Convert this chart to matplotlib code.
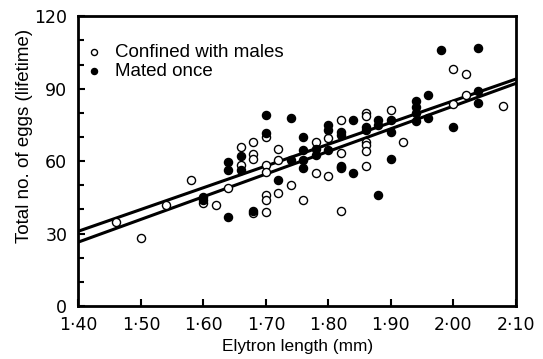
import matplotlib.pyplot as plt

plt.rcParams['font.family'] = ['Liberation Sans', 'DejaVu Sans']

# Confined with males (open circles)
conf_x = [1.46, 1.50, 1.54, 1.58, 1.60, 1.62, 1.64, 1.68, 1.70, 1.70, 1.70, 1.72, 1.74,
          1.66, 1.68, 1.68, 1.68, 1.70, 1.72, 1.72, 1.66, 1.70, 1.70,
          1.76, 1.78, 1.78, 1.80, 1.80, 1.82, 1.82, 1.82, 1.82,
          1.86, 1.86, 1.86, 1.86, 1.86, 1.86, 1.90, 1.92,
          2.00, 2.02, 2.00, 2.02, 2.08]
conf_y = [35, 28, 42, 52, 42.5, 42, 49, 38.5, 46, 44, 39, 47, 50,
          66, 68, 63, 61, 70, 65, 60.5, 58.5, 58.5, 55.5,
          44, 68, 55, 69.5, 54, 77, 63.5, 57, 39.5,
          80, 78.5, 68, 66.5, 64, 58, 81, 68,
          98, 96, 83.5, 87.5, 83]

# Mated once (filled circles)
mated_x = [1.60, 1.60, 1.64, 1.68, 1.72,
           1.70, 1.74, 1.70, 1.66, 1.64, 1.64, 1.66,
           1.76, 1.76, 1.76, 1.76, 1.74, 1.78, 1.78, 1.80, 1.80, 1.80, 1.82, 1.82,
           1.84, 1.82, 1.82, 1.84, 1.86, 1.86, 1.88, 1.88, 1.90, 1.90, 1.90, 1.88,
           1.94, 1.94, 1.94, 1.94, 1.96,
           1.98, 2.04, 1.96, 2.04, 2.04, 2.00]
mated_y = [45, 44, 37, 39.5, 52,
           79, 78, 71.5, 62, 59.5, 56.5, 56.5,
           70, 64.5, 60.5, 57, 60.5, 65, 62.5, 75, 73, 64.5, 72, 71,
           77, 58, 57.5, 55, 74, 73, 77, 75, 77, 72, 61, 46,
           85, 82.5, 80, 76.5, 87.5,
           106, 107, 78, 89, 84, 74]

# fitted regression lines (end points)
line_x = [1.40, 2.10]
line_a = [31.0, 94.0]
line_b = [26.5, 92.2]

fig = plt.figure(figsize=(5.43, 3.59), dpi=100)
ax = fig.add_axes([0.1445, 0.1476, 0.8055, 0.807])

ax.plot(line_x, line_a, color='black', lw=2.2, zorder=2)
ax.plot(line_x, line_b, color='black', lw=2.2, zorder=2)

ax.scatter(conf_x, conf_y, s=34, facecolors='white', edgecolors='black',
           linewidths=1.0, zorder=3, label='Confined with males')
ax.scatter(mated_x, mated_y, s=34, facecolors='black', edgecolors='black',
           linewidths=1.0, zorder=3, label='Mated once')

ax.set_xlim(1.40, 2.10)
ax.set_ylim(0, 120)

xt = [1.40, 1.50, 1.60, 1.70, 1.80, 1.90, 2.00, 2.10]
ax.set_xticks(xt)
ax.set_xticklabels([f'{v:.2f}'.replace('.', '\u00b7') for v in xt])
ax.set_yticks([0, 30, 60, 90, 120])
ax.set_yticks(range(0, 121, 10), minor=True)
ax.tick_params(axis='both', which='major', direction='in', length=5, width=1.5,
               labelsize=12.5)
ax.tick_params(axis='x', which='major', pad=7)
ax.tick_params(axis='y', which='major', pad=8)
ax.tick_params(axis='y', which='minor', direction='in', length=4, width=1.5)
ax.tick_params(axis='x', which='minor', length=0)
for lab in ax.get_xticklabels() + ax.get_yticklabels():
    lab.set_family(['DejaVu Sans'])

for s in ax.spines.values():
    s.set_linewidth(2)

ax.set_xlabel('Elytron length (mm)', fontsize=12.4, labelpad=4)
ax.set_ylabel('Total no. of eggs (lifetime)', fontsize=13.5)
ax.yaxis.set_label_coords(-0.103, 0.588)

leg = ax.legend(loc='center left', bbox_to_anchor=(0.015, 0.842), frameon=False,
                fontsize=13.5, handlelength=1.0, handletextpad=0.62,
                borderpad=0, borderaxespad=0, labelspacing=0.1,
                markerscale=0.75, scatterpoints=1)

plt.savefig('out.png', dpi=100)
